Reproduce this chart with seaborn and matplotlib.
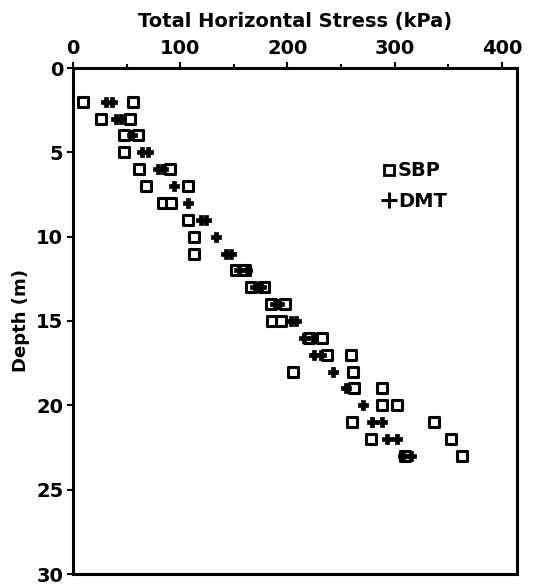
import matplotlib
matplotlib.use("Agg")
import matplotlib.pyplot as plt
import seaborn as sns
import pandas as pd
from matplotlib.ticker import MultipleLocator
from matplotlib.lines import Line2D

# ---- data ----
sbp_depth = [2, 2, 3, 3, 4, 4, 5, 6, 6, 7, 7, 8, 8, 9, 10, 11, 12, 12, 13, 13,
             14, 14, 15, 15, 16, 16, 17, 17, 18, 18, 19, 19, 20, 20, 21, 21,
             22, 22, 23, 23]
sbp_stress = [9, 56, 26, 53, 48, 61, 48, 62, 90, 68, 107, 84, 91, 107, 113, 113,
              152, 160, 166, 178, 185, 198, 186, 194, 220, 232, 237, 259, 205, 261,
              262, 288, 288, 302, 260, 337, 278, 352, 310, 363]

dmt_depth = [2, 2, 3, 3, 4, 5, 5, 6, 6, 7, 8, 9, 9, 10, 11, 11, 12, 12, 13, 13,
             14, 14, 15, 15, 16, 16, 17, 17, 18, 19, 20, 21, 21, 22, 22, 23, 23]
dmt_stress = [31, 36, 40, 45, 55, 64, 70, 79, 84, 94, 107, 119, 124, 133, 143, 147,
              155, 162, 170, 175, 188, 192, 203, 208, 215, 224, 225, 231, 242, 255,
              270, 279, 288, 293, 302, 308, 315]

x_ticks = [0, 100, 200, 300, 400]
y_ticks = [0, 5, 10, 15, 20, 25, 30]

sbp = pd.DataFrame({"stress": sbp_stress, "depth": sbp_depth, "method": "SBP"})
dmt = pd.DataFrame({"stress": dmt_stress, "depth": dmt_depth, "method": "DMT"})

sns.set_theme(style="ticks")
plt.rcParams["font.family"] = ["DejaVu Sans"]
plt.rcParams["font.weight"] = "bold"
plt.rcParams["text.color"] = "black"
plt.rcParams["axes.labelcolor"] = "black"
plt.rcParams["xtick.color"] = "black"
plt.rcParams["ytick.color"] = "black"

fig = plt.figure(figsize=(5.38, 5.85), dpi=100)
ax = fig.add_axes([73 / 538, 1 - 574 / 585, (517 - 73) / 538, (574 - 68) / 585])

sns.scatterplot(data=sbp, x="stress", y="depth", marker="s", s=45,
                facecolor="white", edgecolor="black", linewidth=2.2, ax=ax,
                legend=False, zorder=3)
sns.scatterplot(data=dmt, x="stress", y="depth", marker="P", s=55,
                color="black", edgecolor="black", linewidth=0.5, ax=ax,
                legend=False, zorder=4)

ax.set_xlim(0, 414)
ax.set_ylim(30, 0)
ax.xaxis.tick_top()
ax.xaxis.set_label_position("top")
ax.set_xticks(x_ticks)
ax.set_yticks(y_ticks)
ax.xaxis.set_minor_locator(MultipleLocator(50))
ax.tick_params(axis="x", which="major", length=4, width=1.5, pad=3, labelsize=14)
ax.tick_params(axis="x", which="minor", length=3, width=1.5)
ax.tick_params(axis="y", which="major", length=4, width=1.5, pad=3, labelsize=14)
for lab in ax.get_xticklabels() + ax.get_yticklabels():
    lab.set_fontweight("bold")
    lab.set_color("black")

for sp in ax.spines.values():
    sp.set_linewidth(2.2)
    sp.set_color("black")

ax.set_xlabel("Total Horizontal Stress (kPa)", fontsize=14, fontweight="bold",
              labelpad=9, color="black")
ax.set_ylabel("Depth (m)", fontsize=13, fontweight="bold", labelpad=4,
              color="black")

# legend
handles = [
    Line2D([], [], marker="s", linestyle="none", markersize=7,
           markerfacecolor="white", markeredgecolor="black", markeredgewidth=2.0),
    Line2D([], [], marker="+", linestyle="none", markersize=11,
           markeredgecolor="black", markeredgewidth=2.2),
]
leg = ax.legend(handles, ["SBP", "DMT"], loc="upper left",
                bbox_to_anchor=(0.66, 0.85), frameon=False, handlelength=0.6,
                handletextpad=0.15, labelspacing=0.6,
                prop={"size": 14, "weight": "bold"})
for t in leg.get_texts():
    t.set_color("black")

fig.savefig("out.png", dpi=100, facecolor="white")
